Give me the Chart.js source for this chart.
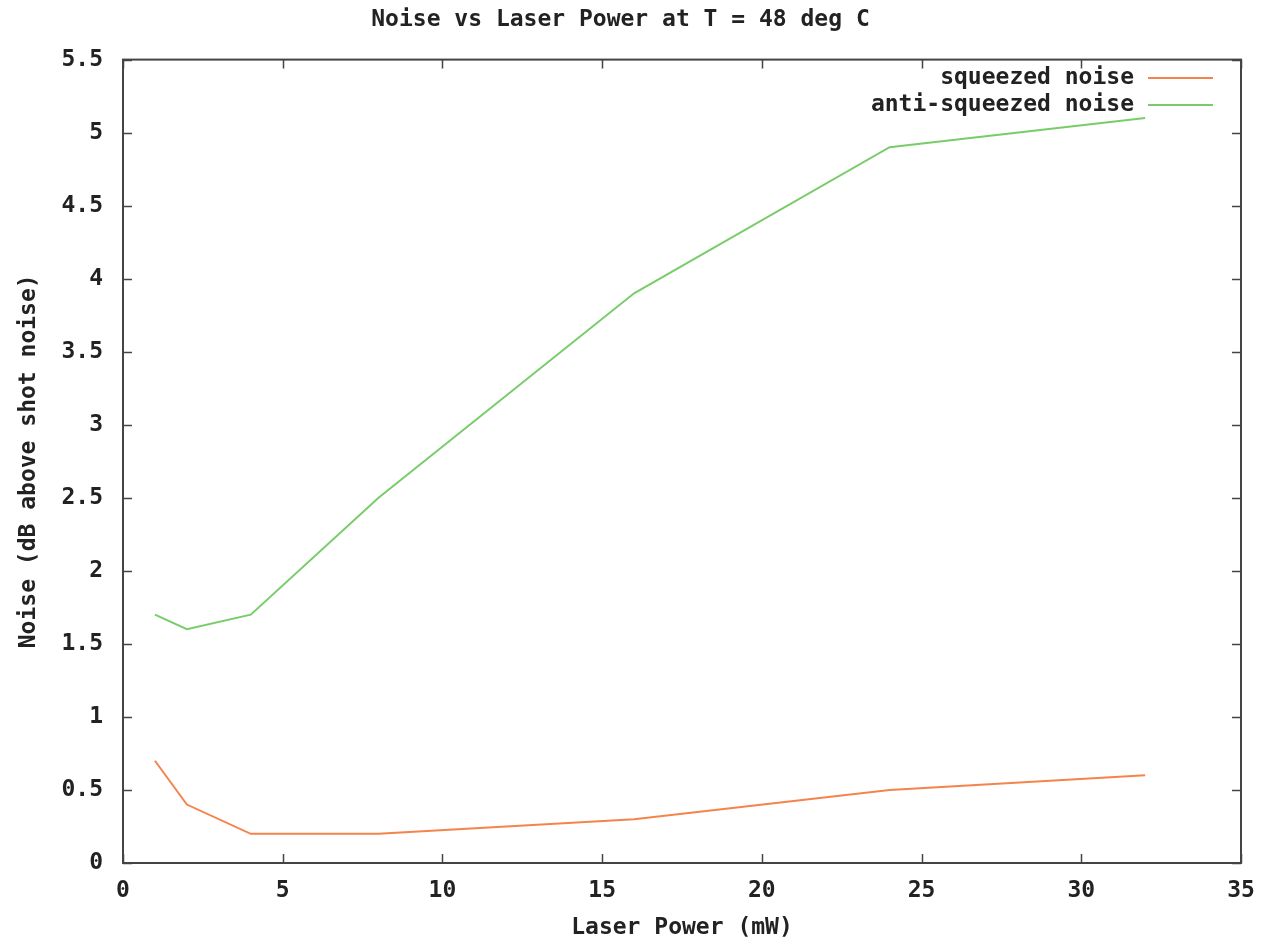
<!DOCTYPE html>
<html>
<head>
<meta charset="utf-8">
<script src="https://cdn.jsdelivr.net/npm/chart.js@4/dist/chart.umd.min.js"></script>
<style>
  html, body { margin: 0; padding: 0; background: #fff; }
  #wrap { width: 1261px; height: 939px; }
</style>
</head>
<body>
<div id="wrap"><canvas id="c" width="1261" height="939"></canvas></div>
<script>
const laserPower = [1, 2, 4, 8, 16, 24, 32];
const squeezedNoise = [0.7, 0.4, 0.2, 0.2, 0.3, 0.5, 0.6];
const antiSqueezedNoise = [1.7, 1.6, 1.7, 2.5, 3.9, 4.9, 5.1];
const xTicks = [0, 5, 10, 15, 20, 25, 30, 35];
const yTicks = [0, 0.5, 1, 1.5, 2, 2.5, 3, 3.5, 4, 4.5, 5, 5.5];

const FONT = "'DejaVu Sans Mono', 'Liberation Mono', monospace";
const FSIZE = 23;
const TEXT = '#222222';
const FRAME = '#444444';

function pts(ys) { return laserPower.map((x, i) => ({ x: x, y: ys[i] })); }

const framePlugin = {
  id: 'frame',
  afterDraw(chart) {
    const { ctx, chartArea: a, scales } = chart;
    const tl = 9;
    ctx.save();
    ctx.strokeStyle = FRAME;
    ctx.lineWidth = 1.5;
    ctx.beginPath();
    xTicks.forEach(v => {
      const px = Math.round(scales.x.getPixelForValue(v)) + 0.5;
      ctx.moveTo(px, a.bottom); ctx.lineTo(px, a.bottom - tl);
      ctx.moveTo(px, a.top); ctx.lineTo(px, a.top + tl);
    });
    yTicks.forEach(v => {
      const py = Math.round(scales.y.getPixelForValue(v)) + 0.5;
      ctx.moveTo(a.left, py); ctx.lineTo(a.left + tl, py);
      ctx.moveTo(a.right, py); ctx.lineTo(a.right - tl, py);
    });
    ctx.stroke();
    ctx.lineWidth = 2;
    ctx.strokeRect(a.left, a.top, a.right - a.left, a.bottom - a.top);
    // legend (text right-aligned, sample line to the right)
    ctx.font = 'bold ' + FSIZE + 'px ' + FONT;
    ctx.textAlign = 'right';
    ctx.textBaseline = 'middle';
    chart.data.datasets.forEach((ds, i) => {
      const y = a.top + 18 + i * 27;
      ctx.fillStyle = TEXT;
      ctx.fillText(ds.label, a.right - 107, y);
      ctx.strokeStyle = ds.borderColor;
      ctx.lineWidth = 2;
      ctx.beginPath();
      ctx.moveTo(a.right - 93, y + 0.5);
      ctx.lineTo(a.right - 28, y + 0.5);
      ctx.stroke();
    });
    ctx.restore();
  }
};

const fnt = { family: FONT, size: FSIZE, weight: 'bold' };

new Chart(document.getElementById('c'), {
  type: 'line',
  data: {
    datasets: [
      { label: 'squeezed noise', data: pts(squeezedNoise), borderColor: '#f4844c', borderWidth: 2, pointRadius: 0, tension: 0, fill: false },
      { label: 'anti-squeezed noise', data: pts(antiSqueezedNoise), borderColor: '#78cd6a', borderWidth: 2, pointRadius: 0, tension: 0, fill: false }
    ]
  },
  options: {
    responsive: false,
    animation: false,
    layout: { padding: { left: 0, right: 20, top: 0, bottom: 0 } },
    plugins: {
      legend: { display: false },
      tooltip: { enabled: false },
      title: {
        display: true,
        text: 'Noise vs Laser Power at T = 48 deg C',
        color: TEXT,
        font: fnt,
        padding: { top: 6, bottom: 26 }
      }
    },
    scales: {
      x: {
        type: 'linear', min: 0, max: 35,
        afterBuildTicks(s) { s.ticks = xTicks.map(v => ({ value: v })); },
        afterFit(s) { s.height = 76; },
        grid: { display: false },
        border: { display: false },
        ticks: { color: TEXT, padding: 6, font: fnt, maxRotation: 0, callback: v => String(v) },
        title: { display: true, text: 'Laser Power (mW)', color: TEXT, font: { family: FONT, size: FSIZE, weight: 'bold', lineHeight: 1 }, padding: { top: 22, bottom: -1 } }
      },
      y: {
        type: 'linear', min: 0, max: 5.5,
        afterBuildTicks(s) { s.ticks = yTicks.map(v => ({ value: v })); },
        afterFit(s) { s.width = 123; },
        grid: { display: false },
        border: { display: false },
        ticks: { color: TEXT, padding: 12, font: fnt, callback: v => String(v) },
        title: { display: true, text: 'Noise (dB above shot noise)', color: TEXT, font: fnt, padding: { top: 15, bottom: 0 } }
      }
    }
  },
  plugins: [framePlugin]
});
</script>
</body>
</html>
